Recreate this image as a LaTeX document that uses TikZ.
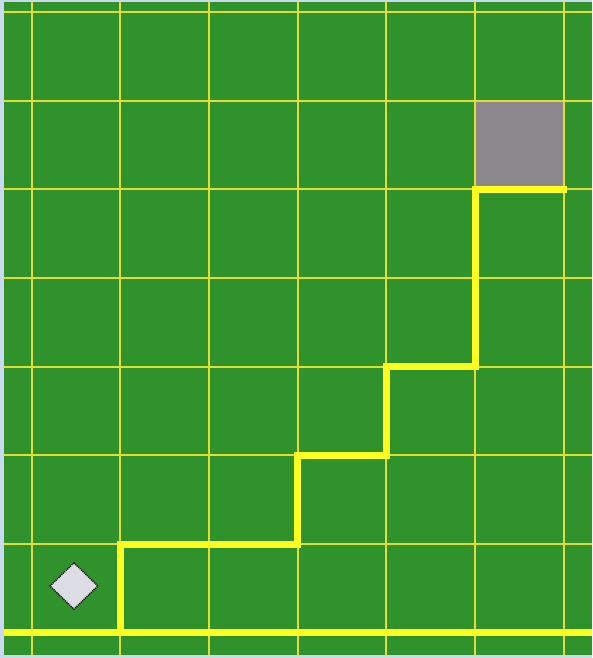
\documentclass[tikz,border=0pt]{standalone}
\usepackage{tikz}
\usetikzlibrary{calc}
\definecolor{frame}{RGB}{201,217,242}
\definecolor{field}{RGB}{47,146,42}
\definecolor{gridline}{RGB}{226,220,52}
\definecolor{trail}{RGB}{255,255,32}
\definecolor{goal}{RGB}{139,135,141}
\definecolor{marker}{RGB}{220,220,228}
\tikzset{
  gridln/.style={gridline, line width=2pt},
  trailln/.style={trail, line width=7pt, line cap=rect, line join=miter},
}
\begin{document}
\begin{tikzpicture}[x=88.67pt, y=-88.67pt]
        \coordinate (TL) at (-0.357,-0.135);
        \coordinate (BR) at (6.319,7.285);
        \useasboundingbox (TL) rectangle (BR);

        \fill[frame] (TL) rectangle (BR);
        \fill[field] (-0.312,-0.113) rectangle (6.319,7.252);

        \fill[goal] (5,1) rectangle (6,2);

        \foreach \i in {0,...,6}
            \draw[gridln] (\i,-0.113) -- (\i,7.252);
        \foreach \j in {0,...,7}
            \draw[gridln] (-0.312,\j) -- (6.319,\j);

        %
        \coordinate (W) at (-0.312,7);
        \coordinate (E) at (6.319,7);
        \coordinate (S) at (1,7);
        \coordinate (G) at (6,2);
        \draw[trailln, line cap=butt] (W) -- (E);
        \draw[trailln] (S) -- (1,6) -- (3,6) -- (3,5) -- (4,5) -- (4,4) -- (5,4) -- (5,2) -- (G);

        \coordinate (M) at (0.477,6.473);
        \draw[fill=marker, draw=black!90, dash pattern=on 1.2pt off 0.8pt, line width=1.5pt]
            ($(M)+(0,-0.262)$) -- ($(M)+(0.27,0)$) -- ($(M)+(0,0.262)$) -- ($(M)+(-0.27,0)$) -- cycle;
    \end{tikzpicture}
\end{document}
